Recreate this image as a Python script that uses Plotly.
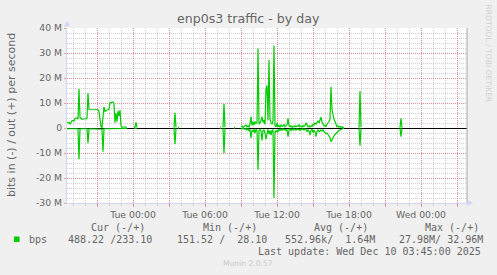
import plotly.graph_objects as go

# ---- data (Mbps); in-traffic stored positive, drawn negative ----
times = [
    "2025-12-08 18:30", "2025-12-08 18:35", "2025-12-08 18:40", "2025-12-08 18:45", "2025-12-08 18:50",
    "2025-12-08 18:55", "2025-12-08 19:00", "2025-12-08 19:05", "2025-12-08 19:10", "2025-12-08 19:15",
    "2025-12-08 19:20", "2025-12-08 19:25", "2025-12-08 19:30", "2025-12-08 19:35", "2025-12-08 19:40",
    "2025-12-08 19:45", "2025-12-08 19:50", "2025-12-08 19:55", "2025-12-08 20:00", "2025-12-08 20:05",
    "2025-12-08 20:10", "2025-12-08 20:15", "2025-12-08 20:20", "2025-12-08 20:25", "2025-12-08 20:30",
    "2025-12-08 20:35", "2025-12-08 20:40", "2025-12-08 20:45", "2025-12-08 20:50", "2025-12-08 20:55",
    "2025-12-08 21:00", "2025-12-08 21:05", "2025-12-08 21:10", "2025-12-08 21:15", "2025-12-08 21:20",
    "2025-12-08 21:25", "2025-12-08 21:30", "2025-12-08 21:35", "2025-12-08 21:40", "2025-12-08 21:45",
    "2025-12-08 21:50", "2025-12-08 21:55", "2025-12-08 22:00", "2025-12-08 22:05", "2025-12-08 22:10",
    "2025-12-08 22:15", "2025-12-08 22:20", "2025-12-08 22:25", "2025-12-08 22:30", "2025-12-08 22:35",
    "2025-12-08 22:40", "2025-12-08 22:45", "2025-12-08 22:50", "2025-12-08 22:55", "2025-12-08 23:00",
    "2025-12-08 23:05", "2025-12-08 23:10", "2025-12-08 23:15", "2025-12-08 23:20", "2025-12-08 23:25",
    "2025-12-08 23:30", "2025-12-08 23:35",
    "2025-12-09 00:05", "2025-12-09 00:10", "2025-12-09 00:15", "2025-12-09 00:20", "2025-12-09 00:25",
    "2025-12-09 03:25", "2025-12-09 03:30", "2025-12-09 03:35", "2025-12-09 03:40", "2025-12-09 03:45",
    "2025-12-09 03:50", "2025-12-09 03:55",
    "2025-12-09 07:15", "2025-12-09 07:20", "2025-12-09 07:25", "2025-12-09 07:30", "2025-12-09 07:35",
    "2025-12-09 07:40", "2025-12-09 07:45",
    "2025-12-09 08:25", "2025-12-09 08:30", "2025-12-09 08:35",
    "2025-12-09 09:00", "2025-12-09 09:05", "2025-12-09 09:10", "2025-12-09 09:15", "2025-12-09 09:20",
    "2025-12-09 09:25", "2025-12-09 09:30", "2025-12-09 09:35", "2025-12-09 09:40", "2025-12-09 09:45",
    "2025-12-09 09:50", "2025-12-09 09:55", "2025-12-09 10:00", "2025-12-09 10:05", "2025-12-09 10:10",
    "2025-12-09 10:15", "2025-12-09 10:20", "2025-12-09 10:25", "2025-12-09 10:30", "2025-12-09 10:35",
    "2025-12-09 10:40", "2025-12-09 10:45", "2025-12-09 10:50", "2025-12-09 10:55", "2025-12-09 11:00",
    "2025-12-09 11:05", "2025-12-09 11:10", "2025-12-09 11:15", "2025-12-09 11:20", "2025-12-09 11:25",
    "2025-12-09 11:30", "2025-12-09 11:35", "2025-12-09 11:40", "2025-12-09 11:45", "2025-12-09 11:50",
    "2025-12-09 11:55", "2025-12-09 12:00", "2025-12-09 12:05", "2025-12-09 12:10", "2025-12-09 12:15",
    "2025-12-09 12:20", "2025-12-09 12:25", "2025-12-09 12:30", "2025-12-09 12:35", "2025-12-09 12:40",
    "2025-12-09 12:45", "2025-12-09 12:50", "2025-12-09 12:55", "2025-12-09 13:00", "2025-12-09 13:05",
    "2025-12-09 13:10", "2025-12-09 13:15", "2025-12-09 13:20", "2025-12-09 13:25", "2025-12-09 13:30",
    "2025-12-09 13:35", "2025-12-09 13:40", "2025-12-09 13:45", "2025-12-09 13:50", "2025-12-09 13:55",
    "2025-12-09 14:00", "2025-12-09 14:05", "2025-12-09 14:10", "2025-12-09 14:15", "2025-12-09 14:20",
    "2025-12-09 14:25", "2025-12-09 14:30", "2025-12-09 14:35", "2025-12-09 14:40", "2025-12-09 14:45",
    "2025-12-09 14:50", "2025-12-09 14:55", "2025-12-09 15:00", "2025-12-09 15:05", "2025-12-09 15:10",
    "2025-12-09 15:15", "2025-12-09 15:20", "2025-12-09 15:25", "2025-12-09 15:30", "2025-12-09 15:35",
    "2025-12-09 15:40", "2025-12-09 15:45", "2025-12-09 15:50", "2025-12-09 15:55", "2025-12-09 16:00",
    "2025-12-09 16:05", "2025-12-09 16:10", "2025-12-09 16:15", "2025-12-09 16:20", "2025-12-09 16:25",
    "2025-12-09 16:30", "2025-12-09 16:35", "2025-12-09 16:40", "2025-12-09 16:45", "2025-12-09 16:50",
    "2025-12-09 16:55", "2025-12-09 17:00", "2025-12-09 17:05", "2025-12-09 17:10", "2025-12-09 17:15",
    "2025-12-09 17:20", "2025-12-09 17:25", "2025-12-09 17:30", "2025-12-09 17:35", "2025-12-09 17:40",
    "2025-12-09 18:50", "2025-12-09 18:55", "2025-12-09 19:00", "2025-12-09 19:05",
    "2025-12-09 22:15", "2025-12-09 22:20", "2025-12-09 22:25", "2025-12-09 22:30",
]

out_mbps = [
    2.1, 2.3, 2.2, 1.5, 2.4, 2.9, 3.0, 2.8, 3.8, 3.9,
    4.0, 3.5, 15.6, 4.3, 3.6, 3.5, 3.6, 3.5, 3.6, 3.7,
    4.0, 13.9, 7.5, 7.4, 7.4, 7.5, 7.4, 7.4, 7.3, 7.4,
    7.4, 7.3, 6.6, 3.5, 0.5, 0.3, 6.0, 8.5, 6.6, 7.0,
    7.2, 7.3, 7.5, 10.1, 10.2, 10.6, 10.4, 9.6, 2.1, 6.0,
    2.5, 6.9, 4.8, 7.2, 0.8, 0.3, 0.4, 0.2, 0.5, 0.3,
    0.2, None,
    0.1, 0.4, 2.3, 0.3, None,
    0.1, 6.1, 0.2, None, 0.3, 0.2, None,
    0.3, 0.5, None, 0.2, 9.6, 0.3, None,
    0.3, 0.2, None,
    0.3, 0.8, 0.2, 0.5, 0.8, 1.2, 0.4, 0.9, 0.3, 1.5,
    4.6, 1.0, 2.5, 1.2, 2.6, 1.8, 2.2, 31.8, 1.5, 2.0,
    3.0, 4.5, 2.2, 3.2, 1.5, 15.5, 17.0, 3.0, 27.2, 3.5,
    2.0, 1.5, 2.8, 32.96, 1.0, 0.5, 1.9, 0.6, 1.0, 0.4,
    1.2, 0.6, 0.9, 1.5, 0.5, 0.8, 1.2, 3.9, 1.0, 0.5,
    0.9, 0.3, 0.7, 0.4, 1.0, 0.5, 0.8, 0.6, 1.4, 0.5,
    0.8, 0.4, 1.0, 0.6, 0.9, 2.1, 1.2, 0.5, 0.8, 0.4,
    1.0, 0.7, 1.5, 1.2, 2.0, 1.5, 2.2, 2.8, 2.0, 3.0,
    4.3, 2.5, 1.2, 0.8, 1.0, 0.6, 1.5, 2.0, 2.6, 3.5,
    16.5, 7.5, 5.0, 3.5, 2.6, 1.5, 0.5, 0.8, 0.4, 0.6,
    0.3, 0.5, 0.2, 0.3, None,
    0.1, 14.8, 0.3, None,
    0.1, 3.9, 0.1, None,
]

in_mbps = [
    0.3, 0.3, 0.3, 0.3, 0.3, 0.4, 0.3, 0.3, 0.3, 0.3,
    0.4, 0.3, 12.5, 0.4, 0.3, 0.3, 0.3, 0.3, 0.3, 0.3,
    0.3, 6.1, 0.5, 0.3, 0.3, 0.3, 0.3, 0.3, 0.3, 0.3,
    0.3, 0.3, 0.3, 0.3, 0.5, 0.5, 9.5, 0.4, 0.3, 0.3,
    0.3, 0.3, 0.3, 0.3, 0.3, 0.3, 0.3, 0.3, 0.3, 0.3,
    0.3, 0.3, 0.3, 0.3, 0.3, 0.2, 0.2, 0.2, 0.2, 0.2,
    0.2, None,
    0.1, 0.1, 0.2, 0.1, None,
    0.1, 6.5, 0.2, None, 0.1, 0.1, None,
    0.1, 0.3, None, 0.2, 10.1, 0.2, None,
    0.2, 0.1, None,
    0.2, 0.4, 0.2, 0.3, 0.5, 0.2, 0.8, 0.3, 1.2, 0.5,
    4.0, 0.8, 1.5, 0.5, 2.0, 0.6, 1.0, 16.8, 1.0, 0.5,
    1.2, 5.0, 1.0, 0.8, 2.0, 4.5, 1.5, 0.5, 2.5, 1.0,
    2.8, 1.0, 0.8, 27.98, 1.2, 1.5, 0.8, 1.6, 0.5, 1.0,
    0.4, 0.9, 0.3, 0.8, 0.5, 1.0, 0.6, 3.5, 0.8, 0.3,
    1.0, 0.4, 0.8, 0.3, 0.6, 0.9, 0.3, 0.7, 0.5, 1.0,
    0.4, 0.6, 0.3, 0.8, 0.4, 0.5, 1.5, 0.8, 1.2, 2.8,
    1.0, 0.5, 1.8, 0.9, 1.5, 3.5, 1.2, 0.8, 1.5, 1.0,
    0.8, 1.2, 0.7, 1.5, 2.0, 2.3, 2.0, 2.6, 3.0, 3.8,
    5.5, 4.5, 3.8, 3.2, 2.6, 2.1, 1.6, 1.2, 1.0, 0.8,
    0.5, 0.3, 0.2, 0.2, None,
    0.1, 7.1, 0.2, None,
    0.1, 3.5, 0.1, None,
]

y_tick_vals = [-30, -20, -10, 0, 10, 20, 30, 40]
y_tick_text = ["-30 M", "-20 M", "-10 M", "0", "10 M", "20 M", "30 M", "40 M"]

x_tick_vals = [
    "2025-12-08 21:00", "2025-12-09 00:00", "2025-12-09 03:00", "2025-12-09 06:00",
    "2025-12-09 09:00", "2025-12-09 12:00", "2025-12-09 15:00", "2025-12-09 18:00",
    "2025-12-09 21:00", "2025-12-10 00:00", "2025-12-10 03:00",
]
x_tick_text = ["", "Tue 00:00", "", "Tue 06:00", "", "Tue 12:00", "", "Tue 18:00", "", "Wed 00:00", ""]

x_range = ["2025-12-08 18:30", "2025-12-10 03:50"]
y_range = [-30, 40]

title_text = "enp0s3 traffic - by day"
y_title = "bits in (-) / out (+) per second"
legend_label = "bps"
legend_header = ["Cur (-/+)", "Min (-/+)", "Avg (-/+)", "Max (-/+)"]
legend_values = ["488.22 /233.10", "151.52 /  28.10", "552.96k/  1.64M", "27.98M/ 32.96M"]
last_update = "Last update: Wed Dec 10 03:45:00 2025"
watermark = "RRDTOOL / TOBI OETIKER"
footer = "Munin 2.0.57"

# ---- layout geometry (pixels) ----
W, H = 497, 275
PL, PR, PT, PB = 67, 467, 28, 203
GREEN = "#00CC00"
FONT = "#666666"
AXIS = "#CFD6F8"
MGRID = "rgba(222,79,79,0.5)"
GRID = "rgba(143,143,143,0.42)"


def px(x):
    return (x - PL) / (PR - PL)


def py(y):
    return (PB - y) / (PB - PT)


def nb(s):
    return s.replace(" ", "\u00a0")


fig = go.Figure()
fig.add_trace(go.Scatter(x=times, y=out_mbps, mode="lines",
                         line=dict(color=GREEN, width=1.2), connectgaps=False,
                         showlegend=False, hoverinfo="skip"))
fig.add_trace(go.Scatter(x=times, y=[None if v is None else -v for v in in_mbps], mode="lines",
                         line=dict(color=GREEN, width=1.2), connectgaps=False,
                         showlegend=False, hoverinfo="skip"))

fig.update_layout(
    width=W, height=H,
    margin=dict(l=PL, r=W - PR, t=PT, b=H - PB, pad=0),
    paper_bgcolor="#F0F0F0",
    plot_bgcolor="#FFFFFF",
    font=dict(family="DejaVu Sans", color=FONT, size=9.3),
    showlegend=False,
)

fig.update_xaxes(
    type="date", range=x_range,
    tickmode="array", tickvals=x_tick_vals, ticktext=x_tick_text,
    showgrid=True, gridcolor=MGRID, griddash="1px,1px", gridwidth=1,
    ticks="outside", ticklen=3, tickcolor=MGRID,
    showline=True, linecolor=AXIS, linewidth=1,
    zeroline=False,
    tickfont=dict(family="DejaVu Sans", size=9.3, color=FONT),
    minor=dict(tick0="2025-12-08 19:00", dtick=3600000, showgrid=True,
               gridcolor=GRID, griddash="1px,1px", gridwidth=1,
               ticks="outside", ticklen=2, tickcolor=GRID),
)
fig.update_yaxes(
    range=y_range,
    tickmode="array", tickvals=y_tick_vals, ticktext=y_tick_text,
    showgrid=True, gridcolor=MGRID, griddash="1px,1px", gridwidth=1,
    ticks="outside", ticklen=2, tickcolor=MGRID,
    showline=True, linecolor=AXIS, linewidth=1,
    zeroline=True, zerolinecolor="#000000", zerolinewidth=1.3,
    tickfont=dict(family="DejaVu Sans", size=9.3, color=FONT),
    minor=dict(tick0=0, dtick=2, showgrid=True,
               gridcolor=GRID, griddash="1px,1px", gridwidth=1),
)

shapes = []
# right frame line
shapes.append(dict(type="line", xref="paper", yref="paper", x0=px(467), x1=px(467),
                   y0=py(PT), y1=py(PB), line=dict(color="#A8A8A8", width=1)))
# arrows
shapes.append(dict(type="path", xref="paper", yref="paper",
                   path=f"M {px(64)},{py(26.5)} L {px(70)},{py(26.5)} L {px(67)},{py(21)} Z",
                   fillcolor=AXIS, line=dict(width=0)))
shapes.append(dict(type="path", xref="paper", yref="paper",
                   path=f"M {px(467.5)},{py(200)} L {px(467.5)},{py(206)} L {px(473)},{py(203)} Z",
                   fillcolor=AXIS, line=dict(width=0)))
# legend swatch
shapes.append(dict(type="rect", xref="paper", yref="paper",
                   x0=px(14), x1=px(19.5), y0=py(242), y1=py(236.5),
                   fillcolor=GREEN, line=dict(width=0)))
fig.update_layout(shapes=shapes)

ann = []
ann.append(dict(text=title_text, x=px(248.5), y=py(18.5), xref="paper", yref="paper",
                xanchor="center", yanchor="middle", showarrow=False,
                font=dict(family="DejaVu Sans", size=12.6, color=FONT)))
ann.append(dict(text=y_title, x=px(11), y=py(115), xref="paper", yref="paper",
                xanchor="center", yanchor="middle", showarrow=False, textangle=-90,
                font=dict(family="DejaVu Sans", size=11, color=FONT)))
mono = dict(family="DejaVu Sans Mono", size=10, color=FONT)
for txt, x0 in zip(legend_header, [89, 201, 312, 423]):
    ann.append(dict(text=nb(txt), x=px(x0), y=py(227.7), xref="paper", yref="paper",
                    xanchor="left", yanchor="middle", showarrow=False, font=mono))
ann.append(dict(text=legend_label, x=px(27), y=py(239.3), xref="paper", yref="paper",
                xanchor="left", yanchor="middle", showarrow=False, font=mono))
for txt, x0 in zip(legend_values, [66, 175, 283, 397]):
    ann.append(dict(text=nb(txt), x=px(x0), y=py(239.3), xref="paper", yref="paper",
                    xanchor="left", yanchor="middle", showarrow=False, font=mono))
ann.append(dict(text=nb(last_update), x=px(483), y=py(251), xref="paper", yref="paper",
                xanchor="right", yanchor="middle", showarrow=False, font=mono))
ann.append(dict(text=footer, x=px(248), y=py(263.5), xref="paper", yref="paper",
                xanchor="center", yanchor="middle", showarrow=False,
                font=dict(family="DejaVu Sans", size=7.6, color="#C8C8C8")))
ann.append(dict(text=watermark, x=px(488), y=py(53.5), xref="paper", yref="paper",
                xanchor="center", yanchor="middle", showarrow=False, textangle=90,
                font=dict(family="DejaVu Sans", size=7.6, color="#D0D0D0")))
fig.update_layout(annotations=ann)

fig.write_html("out.html")
